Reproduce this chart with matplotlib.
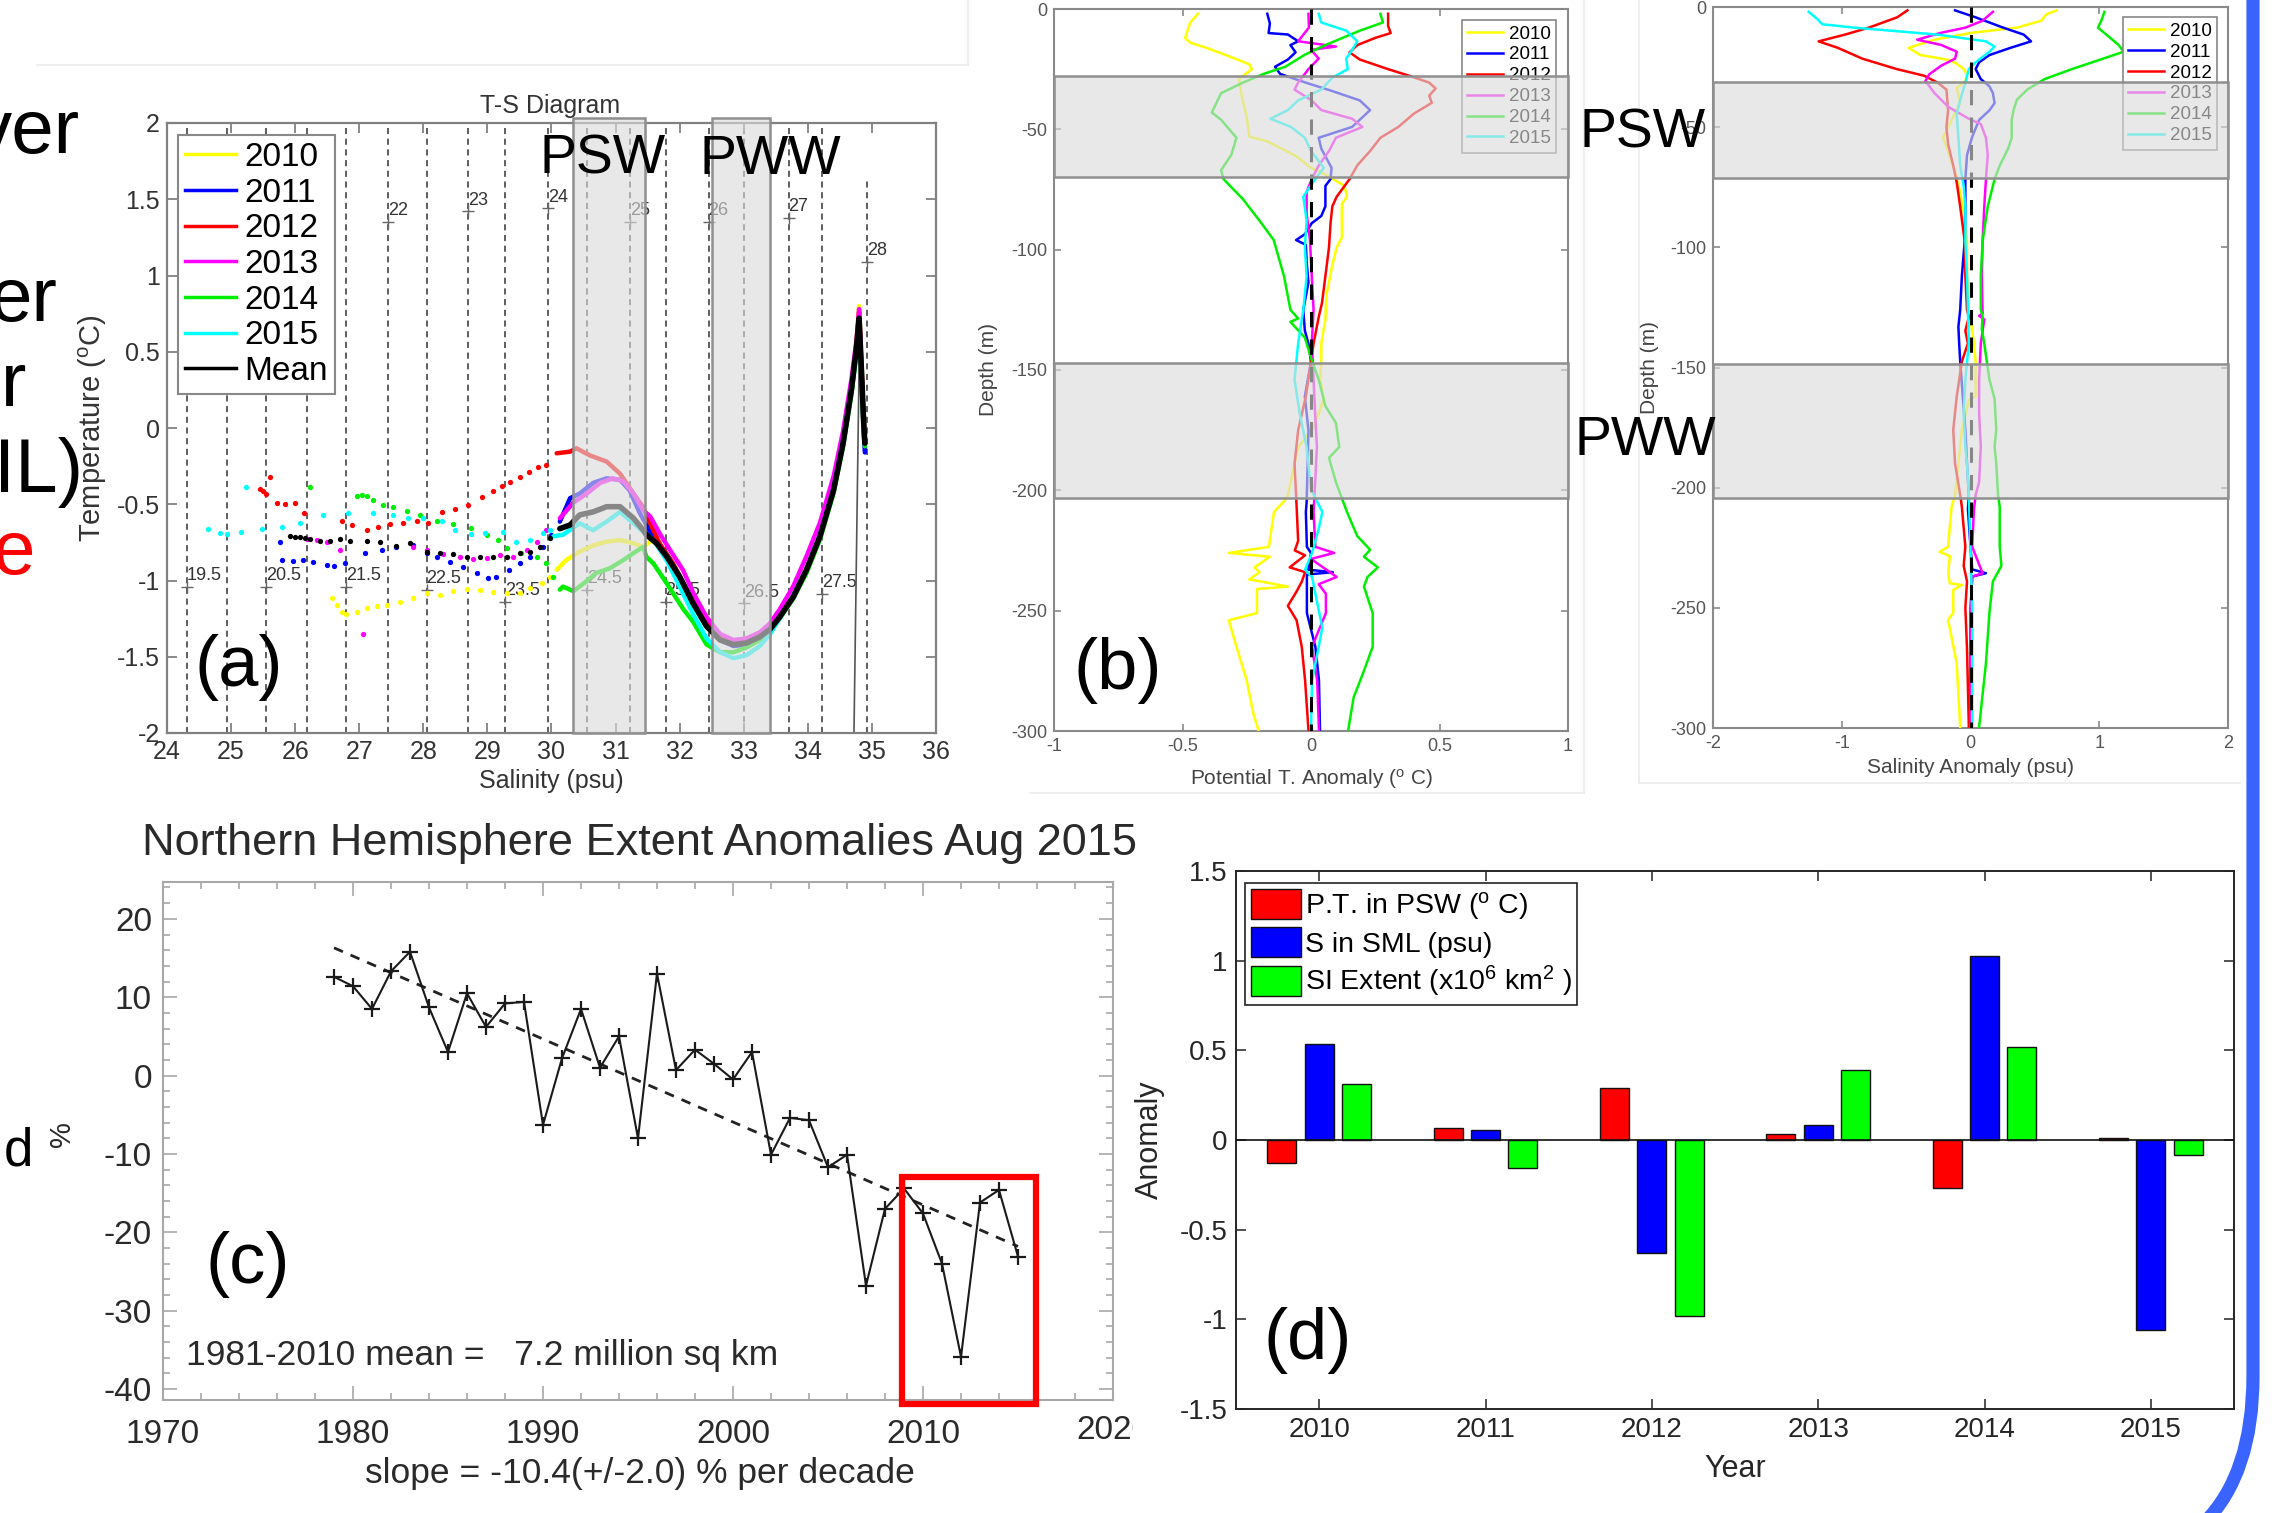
import matplotlib
matplotlib.use('Agg')
import matplotlib.pyplot as plt
from matplotlib.lines import Line2D
from matplotlib.patches import Rectangle, FancyBboxPatch, Patch
from matplotlib.ticker import FuncFormatter, MultipleLocator
from matplotlib.transforms import Bbox, TransformedBbox, IdentityTransform

plt.rcParams['font.family'] = ['Liberation Sans', 'DejaVu Sans']
plt.rcParams['mathtext.fontset'] = 'custom'
plt.rcParams['mathtext.rm'] = 'Liberation Sans'
plt.rcParams['mathtext.it'] = 'Liberation Sans:italic'
plt.rcParams['axes.unicode_minus'] = False

# ---------------- (a) T-S diagram ----------------
ts_labels = ['2010', '2011', '2012', '2013', '2014', '2015', 'Mean']
ts_colors = ['#ffff00', '#0000ff', '#ff0000', '#ff00ff', '#00ee00', '#00ffff', '#000000']

# isopycnals (sigma-t) and where their clabel '+' sits
iso_sigma = ['19.5', '20', '20.5', '21', '21.5', '22', '22.5', '23', '23.5', '24',
             '24.5', '25', '25.5', '26', '26.5', '27', '27.5', '28']
iso_s = [24.31, 24.93, 25.55, 26.18, 26.80, 27.45, 28.05, 28.70, 29.28, 29.95,
         30.55, 31.22, 31.78, 32.45, 33.00, 33.70, 34.22, 34.92]
iso_top = [2, 2, 2, 2, 2, 2, 2, 2, 2, 2, 2, 2, 2, 2, 2, 2, 2, 1.62]
iso_lab_t = [-1.04, None, -1.04, None, -1.04, 1.35, -1.06, 1.42, -1.14, 1.44,
             -1.06, 1.35, -1.14, 1.35, -1.15, 1.38, -1.09, 1.09]

psw_s = (30.33, 31.46)
pww_s = (32.51, 33.41)

# surface-layer casts (dots)
dot_2010_s = [26.57, 26.65, 26.73, 26.80, 26.96, 27.12, 27.27, 27.43, 27.64, 27.84, 28.05,
              28.26, 28.47, 28.68, 28.88, 29.09, 29.30, 29.51, 29.66, 29.85, 29.98]
dot_2010_t = [-1.117, -1.16, -1.204, -1.22, -1.204, -1.18, -1.167, -1.16, -1.14, -1.117, -1.084,
              -1.095, -1.067, -1.058, -1.062, -1.073, -1.084, -1.084, -1.051, -1.014, -0.975]
dot_2011_s = [25.76, 25.79, 25.97, 26.13, 26.28, 26.49, 26.60, 26.78, 27.09, 27.35, 27.58, 27.84,
              28.05, 28.21, 28.42, 28.62, 28.83, 29.01, 29.14, 29.33, 29.51, 29.66, 29.87, 30.00]
dot_2011_t = [-0.745, -0.866, -0.87, -0.866, -0.877, -0.898, -0.905, -0.888, -0.822, -0.80, -0.78, -0.77,
              -0.82, -0.844, -0.877, -0.914, -0.95, -0.986, -0.975, -0.93, -0.888, -0.844, -0.778, -0.70]
dot_2012_s = [25.45, 25.50, 25.55, 25.61, 25.71, 25.84, 26.00, 26.14, 26.73, 26.88, 27.12, 27.30,
              27.48, 27.69, 27.90, 28.08, 28.29, 28.49, 28.70, 28.91, 29.09, 29.22, 29.35, 29.51,
              29.65, 29.79, 29.92]
dot_2012_t = [-0.40, -0.415, -0.43, -0.32, -0.49, -0.50, -0.49, -0.555, -0.608, -0.636, -0.669, -0.651,
              -0.632, -0.621, -0.608, -0.621, -0.549, -0.533, -0.505, -0.455, -0.411, -0.38, -0.352, -0.319,
              -0.29, -0.254, -0.243]
dot_2013_s = [26.18, 26.34, 26.49, 26.70, 27.06, 27.84, 28.05, 28.31, 28.57, 28.78, 28.99, 29.20,
              29.40, 29.61, 29.77, 29.92]
dot_2013_t = [-0.73, -0.734, -0.745, -0.80, -1.35, -0.78, -0.80, -0.826, -0.844, -0.86, -0.855, -0.833,
              -0.844, -0.80, -0.745, -0.669]
dot_2014_s = [26.23, 26.96, 27.04, 27.12, 27.22, 27.37, 27.53, 27.74, 27.95, 28.21, 28.47, 28.75,
              29.00, 29.17, 29.30, 29.53, 29.77, 29.92, 30.03]
dot_2014_t = [-0.385, -0.446, -0.44, -0.444, -0.472, -0.505, -0.516, -0.544, -0.57, -0.608, -0.63, -0.658,
              -0.70, -0.734, -0.79, -0.822, -0.844, -0.888, -0.975]
dot_2015_s = [24.645, 24.83, 24.93, 25.16, 25.23, 25.48, 25.79, 26.07, 26.44, 26.83, 27.22, 27.53,
              27.76, 28.00, 28.29, 28.49, 28.75, 28.96, 29.25, 29.45, 29.66, 29.87, 29.97]
dot_2015_t = [-0.665, -0.686, -0.695, -0.68, -0.385, -0.665, -0.647, -0.625, -0.57, -0.56, -0.555, -0.57,
              -0.592, -0.592, -0.608, -0.669, -0.695, -0.69, -0.68, -0.745, -0.734, -0.69, -0.669]
dot_mean_s = [25.92, 26.00, 26.07, 26.15, 26.23, 26.39, 26.54, 26.70, 26.86, 27.12, 27.32, 27.58,
              27.79, 28.05, 28.26, 28.47, 28.68, 28.88, 29.09, 29.30, 29.51, 29.66, 29.82, 29.98]
dot_mean_t = [-0.708, -0.712, -0.717, -0.722, -0.73, -0.739, -0.739, -0.73, -0.739, -0.739, -0.745, -0.774,
              -0.756, -0.81, -0.818, -0.826, -0.844, -0.848, -0.848, -0.844, -0.818, -0.81, -0.778, -0.724]

# PSW part of each cast, from the surface layer down into the halocline
mid_2010_s = [30.08, 30.23, 30.44, 30.65, 30.86, 31.07, 31.28, 31.43, 31.55, 31.70, 31.85, 32.00]
mid_2010_t = [-0.93, -0.866, -0.81, -0.77, -0.745, -0.735, -0.756, -0.78, -0.74, -0.77, -0.86, -0.98]
mid_2011_s = [30.13, 30.29, 30.44, 30.65, 30.86, 31.07, 31.22, 31.38, 31.54, 31.70, 31.85, 32.00]
mid_2011_t = [-0.614, -0.46, -0.43, -0.36, -0.33, -0.34, -0.41, -0.56, -0.68, -0.77, -0.86, -0.975]
mid_2012_s = [30.08, 30.29, 30.39, 30.60, 30.86, 31.07, 31.28, 31.43, 31.54, 31.69, 31.90, 32.11]
mid_2012_t = [-0.166, -0.155, -0.133, -0.18, -0.22, -0.30, -0.43, -0.52, -0.625, -0.76, -0.89, -1.06]
mid_2013_s = [30.13, 30.34, 30.55, 30.76, 30.96, 31.12, 31.28, 31.43, 31.54, 31.70, 31.85, 32.05]
mid_2013_t = [-0.592, -0.49, -0.43, -0.36, -0.33, -0.35, -0.43, -0.54, -0.58, -0.70, -0.80, -0.93]
mid_2014_s = [30.13, 30.18, 30.34, 30.50, 30.70, 30.91, 31.12, 31.28, 31.43, 31.48, 31.59, 31.80, 32.06]
mid_2014_t = [-1.06, -1.04, -1.07, -1.02, -0.95, -0.92, -0.866, -0.82, -0.78, -0.844, -0.888, -1.02, -1.19]
mid_2015_s = [30.03, 30.18, 30.44, 30.65, 30.86, 31.07, 31.28, 31.43, 31.59, 31.80, 32.00]
mid_2015_t = [-0.71, -0.70, -0.625, -0.67, -0.614, -0.55, -0.625, -0.68, -0.734, -0.87, -1.04]
mid_mean_s = [30.13, 30.29, 30.44, 30.65, 30.86, 31.07, 31.28, 31.43, 31.48, 31.64, 31.80, 32.00]
mid_mean_t = [-0.66, -0.636, -0.57, -0.55, -0.516, -0.516, -0.592, -0.669, -0.70, -0.756, -0.844, -0.975]

# deep part: PWW minimum, Atlantic layer maximum, then the bottom of the cast
deep_s = [32.21, 32.42, 32.63, 32.84, 33.04, 33.25, 33.41, 33.56, 33.77, 33.98, 34.19, 34.40,
          34.55, 34.68, 34.76, 34.80, 34.84, 34.87, 34.89]
deep_2010_t = [-1.14, -1.29, -1.37, -1.40, -1.39, -1.36, -1.31, -1.23, -1.10, -0.92, -0.70, -0.40,
               -0.08, 0.28, 0.57, 0.80, 0.40, 0.08, -0.08]
deep_2011_t = [-1.15, -1.30, -1.39, -1.43, -1.42, -1.38, -1.32, -1.24, -1.11, -0.93, -0.71, -0.41,
               -0.11, 0.24, 0.52, 0.70, 0.30, 0.00, -0.16]
deep_2012_t = [-1.13, -1.28, -1.37, -1.41, -1.40, -1.36, -1.31, -1.23, -1.10, -0.92, -0.70, -0.40,
               -0.09, 0.26, 0.55, 0.76, 0.36, 0.05, -0.08]
deep_2013_t = [-1.08, -1.24, -1.35, -1.39, -1.38, -1.34, -1.28, -1.19, -1.04, -0.84, -0.62, -0.32,
               -0.02, 0.32, 0.58, 0.78, 0.38, 0.06, -0.07]
deep_2014_t = [-1.27, -1.42, -1.47, -1.47, -1.44, -1.39, -1.33, -1.25, -1.12, -0.95, -0.73, -0.43,
               -0.12, 0.22, 0.50, 0.66, 0.30, 0.00, -0.12]
deep_2015_t = [-1.22, -1.38, -1.47, -1.51, -1.49, -1.43, -1.35, -1.25, -1.10, -0.92, -0.70, -0.40,
               -0.09, 0.26, 0.53, 0.70, 0.33, 0.03, -0.09]
deep_mean_t = [-1.15, -1.30, -1.39, -1.42, -1.41, -1.37, -1.32, -1.24, -1.11, -0.93, -0.71, -0.41,
               -0.10, 0.25, 0.53, 0.72, 0.35, 0.05, -0.10]
edge_s = [34.72, 34.81]
edge_t = [-2.0, 0.72]

# ---------------- (b) anomaly profiles: (depth m, anomaly) ----------------
prof_years = ['2010', '2011', '2012', '2013', '2014', '2015']
pt_2010 = [(-2, -0.44), (-5.6, -0.47), (-12, -0.49), (-14, -0.47), (-16, -0.41), (-20, -0.31), (-23, -0.24),
           (-25, -0.23), (-29, -0.28), (-36, -0.27), (-45, -0.25), (-53, -0.24), (-55, -0.17), (-61, -0.06),
           (-66, 0.00), (-69, 0.06), (-73.5, 0.13), (-78, 0.14), (-81, 0.12), (-88, 0.12), (-95, 0.12),
           (-99, 0.10), (-108, 0.08), (-119, 0.06), (-129, 0.056), (-139, 0.04), (-146, 0.04), (-154, 0.036),
           (-162, 0.05), (-174, 0.01), (-182, -0.05), (-197, -0.08), (-202, -0.09), (-204, -0.10),
           (-209, -0.144), (-223.5, -0.164), (-226, -0.32), (-227.6, -0.16), (-232, -0.22), (-234, -0.20),
           (-237, -0.24), (-240, -0.09), (-241, -0.21), (-251, -0.21), (-254, -0.32), (-265, -0.29),
           (-279, -0.25), (-292.5, -0.225), (-299.5, -0.205)]
pt_2011 = [(-2, -0.17), (-6, -0.16), (-10, -0.165), (-10.6, -0.09), (-13.4, -0.05), (-15, -0.08), (-18, -0.06),
           (-21, -0.09), (-24, -0.14), (-27, -0.12), (-30.6, -0.02), (-34, 0.08), (-38, 0.19), (-42, 0.23),
           (-45, 0.20), (-49, 0.16), (-53.5, 0.03), (-58, 0.04), (-62, 0.06), (-66, 0.08), (-70.7, 0.076),
           (-73.5, 0.056), (-82, 0.056), (-86, 0.04), (-89, 0.003), (-93.6, -0.024), (-96, -0.058),
           (-98, -0.02), (-105, -0.017), (-113.6, -0.01), (-125, -0.03), (-133.6, -0.024), (-139, -0.01),
           (-146.5, 0.0), (-161, -0.024), (-175, -0.01), (-189, -0.013), (-205, -0.017), (-209, -0.02),
           (-223.5, -0.016), (-226, 0.0), (-233, -0.01), (-234, 0.085), (-235, -0.016), (-251, -0.016),
           (-265, 0.017), (-279, 0.031), (-299.5, 0.035)]
pt_2012 = [(-2, 0.30), (-7, 0.30), (-10, 0.31), (-12, 0.25), (-15, 0.18), (-18, 0.15), (-21, 0.19), (-25, 0.30),
           (-28, 0.39), (-30.6, 0.46), (-33, 0.485), (-36, 0.46), (-39, 0.47), (-43.5, 0.40), (-49, 0.34),
           (-53.5, 0.27), (-59, 0.23), (-65, 0.18), (-70.7, 0.15), (-78, 0.10), (-82, 0.083), (-89, 0.076),
           (-99, 0.07), (-111, 0.056), (-122, 0.043), (-128, 0.03), (-139, 0.01), (-146.5, 0.0), (-161, -0.02),
           (-175, -0.05), (-189, -0.064), (-202, -0.058), (-221, -0.05), (-225, -0.063), (-227, -0.023),
           (-232, -0.083), (-234, -0.023), (-238, -0.036), (-242, -0.056), (-248, -0.09), (-254, -0.056),
           (-265, -0.036), (-279, -0.023), (-299.5, -0.01)]
pt_2013 = [(-2, -0.01), (-7.7, -0.008), (-13.4, -0.05), (-15.6, 0.097), (-17, 0.0), (-20.6, 0.03), (-25, -0.01),
           (-30.6, -0.05), (-33.5, -0.064), (-38, 0.003), (-42, 0.04), (-45.6, 0.16), (-49, 0.20),
           (-53.5, 0.097), (-59, 0.07), (-65, 0.03), (-70.7, 0.003), (-76, -0.017), (-85, -0.017),
           (-96, -0.004), (-111, 0.003), (-125, 0.01), (-139, 0.003), (-154, 0.01), (-168, 0.016),
           (-182, 0.023), (-197, 0.016), (-209, 0.01), (-223.5, 0.017), (-226, 0.09), (-228.5, 0.0),
           (-236, 0.10), (-239, 0.03), (-243, 0.058), (-251, 0.058), (-265, 0.004), (-279, 0.024),
           (-299.5, 0.031)]
pt_2014 = [(-2, 0.27), (-5.6, 0.28), (-9, 0.19), (-15, 0.056), (-19, -0.024), (-24, -0.10), (-27, -0.185),
           (-30.6, -0.265), (-35, -0.35), (-43, -0.386), (-46, -0.35), (-53.5, -0.29), (-60.6, -0.31),
           (-67, -0.35), (-70.7, -0.34), (-79, -0.265), (-88, -0.20), (-96, -0.145), (-111, -0.105),
           (-125, -0.08), (-128.6, -0.05), (-130, -0.08), (-136.5, -0.024), (-145, 0.0), (-154, 0.03),
           (-165, 0.056), (-172, 0.097), (-182, 0.11), (-186.5, 0.07), (-196.6, 0.097), (-209, 0.14),
           (-219, 0.18), (-224.7, 0.23), (-227.6, 0.206), (-232, 0.26), (-236, 0.22), (-240, 0.206),
           (-251, 0.24), (-265, 0.24), (-275, 0.206), (-286, 0.166), (-299.5, 0.145)]
pt_2015 = [(-2, 0.03), (-5.6, 0.04), (-9, 0.137), (-13.4, 0.18), (-17, 0.16), (-20.6, 0.137), (-25, 0.143),
           (-28.5, 0.083), (-33.5, 0.04), (-38, -0.05), (-42, -0.09), (-45.6, -0.158), (-49, -0.078),
           (-53.5, -0.024), (-59, 0.0), (-66, 0.05), (-70.7, 0.016), (-78, -0.03), (-88, -0.017),
           (-99, -0.024), (-111, -0.017), (-125, -0.03), (-139, -0.05), (-154, -0.064), (-168, -0.044),
           (-182, -0.017), (-199.6, 0.0), (-209, 0.044), (-216, 0.03), (-226, 0.004), (-233, -0.023),
           (-236, 0.004), (-243, 0.017), (-257, 0.044), (-265, 0.03), (-279, 0.004), (-299.5, 0.0)]

sa_2010 = [(-1.4, 0.67), (-3, 0.59), (-5.7, 0.55), (-8.6, 0.36), (-10.7, 0.013), (-13.6, -0.28), (-17, -0.48),
           (-20, -0.39), (-22, -0.17), (-23.6, -0.107), (-25.8, -0.053), (-28, -0.027), (-30.8, -0.04),
           (-33.7, -0.107), (-40, -0.08), (-47, -0.147), (-54.4, -0.214), (-60, -0.174), (-68.8, -0.12),
           (-77, -0.08), (-86, -0.053), (-97, -0.027), (-112, -0.027), (-126, -0.013), (-134.7, 0.013),
           (-140, 0.027), (-147.5, 0.04), (-162, 0.04), (-163.5, -0.013), (-176, -0.067), (-190, -0.094),
           (-203, -0.12), (-208, -0.147), (-224.6, -0.174), (-226.7, -0.24), (-228.5, -0.16),
           (-235.6, -0.174), (-239.8, -0.16), (-240.5, -0.067), (-242.6, -0.134), (-252, -0.134),
           (-255, -0.174), (-273, -0.107), (-299.6, -0.08)]
sa_2011 = [(-1.4, -0.12), (-4.3, 0.04), (-8.6, 0.254), (-11.5, 0.414), (-14.3, 0.47), (-17, 0.31), (-20, 0.147),
           (-23, 0.067), (-25.8, 0.04), (-30, 0.08), (-33, 0.147), (-35.8, 0.174), (-40, 0.187), (-43, 0.147),
           (-47, 0.067), (-54, 0.013), (-61.6, -0.027), (-71.6, -0.04), (-83, -0.04), (-97.4, -0.045),
           (-112, -0.067), (-126, -0.08), (-133, -0.094), (-140, -0.088), (-147.5, -0.08), (-162, -0.06),
           (-176, -0.04), (-190, -0.027), (-203, -0.013), (-208.8, -0.02), (-224.6, 0.0), (-234, 0.013),
           (-235.6, 0.12), (-237, 0.013), (-252, 0.0), (-299.6, 0.0)]
sa_2012 = [(-1.4, -0.49), (-4.3, -0.57), (-8.6, -0.79), (-11.5, -0.976), (-14.3, -1.18), (-17, -1.03),
           (-21.5, -0.84), (-25.8, -0.575), (-28.6, -0.36), (-31.5, -0.254), (-34.4, -0.187), (-43, -0.174),
           (-50, -0.187), (-57, -0.174), (-66, -0.134), (-73, -0.107), (-83, -0.08), (-97.4, -0.045),
           (-112, -0.04), (-126, -0.027), (-129, -0.013), (-134.7, -0.04), (-140, -0.02), (-147.5, -0.067),
           (-162, -0.107), (-176, -0.134), (-190, -0.12), (-203, -0.08), (-208, -0.067), (-224.6, -0.04),
           (-232.5, -0.053), (-239, -0.027), (-250, -0.04), (-267, -0.027), (-299.6, -0.013)]
sa_2013 = [(-2, 0.174), (-5.7, 0.094), (-8.6, -0.04), (-10.7, -0.227), (-13.6, -0.414), (-15.8, -0.227),
           (-18.6, -0.107), (-21.5, -0.12), (-24.4, -0.227), (-28, -0.32), (-30.8, -0.35), (-35.8, -0.28),
           (-41.5, -0.174), (-46.5, -0.013), (-48.7, 0.08), (-54.4, 0.12), (-61.6, 0.134), (-71.6, 0.12),
           (-83, 0.107), (-97.4, 0.094), (-112, 0.088), (-127.5, 0.094), (-128.5, 0.067), (-130, 0.107),
           (-140, 0.08), (-155, 0.067), (-169, 0.067), (-183, 0.08), (-197.7, 0.067), (-203, 0.04),
           (-208.8, 0.027), (-224.6, 0.013), (-235.6, 0.094), (-237, 0.013), (-252, 0.0), (-299.6, 0.0)]
sa_2014 = [(-2, 1.04), (-5.7, 1.016), (-8.6, 0.99), (-11.5, 1.056), (-15.8, 1.15), (-18.6, 1.19), (-21.5, 1.03),
           (-25.8, 0.79), (-30, 0.575), (-34.4, 0.44), (-38.6, 0.36), (-43, 0.334), (-47, 0.32), (-54.4, 0.32),
           (-58.7, 0.294), (-66, 0.227), (-71.6, 0.187), (-83, 0.134), (-97.4, 0.094), (-112, 0.08),
           (-126, 0.08), (-128.5, 0.094), (-134, 0.088), (-140, 0.107), (-155, 0.147), (-163, 0.187),
           (-176, 0.2), (-183, 0.187), (-190, 0.2), (-203, 0.214), (-208, 0.227), (-224.6, 0.227),
           (-232.5, 0.24), (-239, 0.174), (-252, 0.147), (-273, 0.12), (-299.6, 0.067)]
sa_2015 = [(-2, -1.257), (-5, -1.19), (-7.2, -1.15), (-8.6, -0.9), (-11.5, -0.254), (-14.3, 0.12),
           (-16.5, 0.187), (-18.6, 0.147), (-23, 0.04), (-25.8, -0.013), (-31.5, -0.04), (-38.7, -0.08),
           (-44.4, -0.107), (-54.4, -0.094), (-66, -0.08), (-74.5, -0.053), (-83, -0.04), (-97.4, -0.04),
           (-112, -0.027), (-126, -0.02), (-140, -0.013), (-155, -0.04), (-169, -0.053), (-183, -0.04),
           (-190, -0.027), (-203, -0.013), (-224.6, 0.0), (-252, 0.013), (-299.6, 0.013)]
mean_depth = [0, -300]
mean_anom = [0, 0]
pt_psw_z = (-28, -70)
pt_pww_z = (-147, -203)
sa_psw_z = (-31, -71)
sa_pww_z = (-148.5, -204.5)

# ---------------- (c) NH sea ice extent anomalies, August ----------------
nh_year = [1979, 1980, 1981, 1982, 1983, 1984, 1985, 1986, 1987, 1988, 1989, 1990, 1991, 1992, 1993,
           1994, 1995, 1996, 1997, 1998, 1999, 2000, 2001, 2002, 2003, 2004, 2005, 2006, 2007, 2008,
           2009, 2010, 2011, 2012, 2013, 2014, 2015]
nh_pct = [12.6, 11.4, 8.5, 13.3, 15.8, 8.7, 3.0, 10.5, 6.2, 9.2, 9.4, -6.3, 2.2, 8.5, 1.0,
          5.0, -8.0, 13.0, 0.7, 3.3, 1.5, -0.5, 3.0, -10.1, -5.4, -5.7, -11.7, -10.1, -26.8, -17.0,
          -14.4, -17.6, -24.0, -35.9, -16.2, -14.6, -23.1]
trend_year = [1979, 2015]
trend_pct = [16.3, -21.8]
box_year = (2008.9, 2015.95)
box_pct = (-41.9, -13.0)

# ---------------- (d) yearly anomalies ----------------
bar_years = [2010, 2011, 2012, 2013, 2014, 2015]
pt_psw = [-0.13, 0.065, 0.288, 0.036, -0.267, 0.01]
s_sml = [0.536, 0.057, -0.629, 0.086, 1.024, -1.062]
si_extent = [0.314, -0.157, -0.979, 0.388, 0.517, -0.083]
bar_labels = [r'P.T. in PSW ($^{\mathrm{o}}$ C)', 'S in SML (psu)',
              r'SI Extent (x10$^{6}$ km$^{2}$ )']
bar_colors = ['#ff0000', '#0000ff', '#00ff00']

# ------------------------------------------------------------------
W, H = 2276, 1513
fig = plt.figure(figsize=(W / 100, H / 100), dpi=100)


def px_axes(x0, y0, x1, y1):
    # axes placed by its pixel box, y counted from the top edge
    return fig.add_axes([x0 / W, 1 - y1 / H, (x1 - x0) / W, (y1 - y0) / H])


def fig_text(x, y, s, **kw):
    return fig.text(x / W, 1 - y / H, s, **kw)


def fig_line(xs, ys, **kw):
    fig.add_artist(Line2D([x / W for x in xs], [1 - y / H for y in ys], **kw))


def num(v, pos=None):
    return '0' if abs(v) < 1e-9 else f'{v:g}'


def matlab_box(ax, color, lw, length, labelsize, labelcolor, pad):
    for sp in ax.spines.values():
        sp.set_color(color)
        sp.set_linewidth(lw)
    ax.tick_params(direction='in', top=True, right=True, length=length, width=lw * 0.8,
                   color=color, labelsize=labelsize, labelcolor=labelcolor, pad=pad)
    ax.xaxis.set_major_formatter(FuncFormatter(num))
    ax.yaxis.set_major_formatter(FuncFormatter(num))


# faint borders of the pasted panels
for xs, ys in [([37, 968], [65, 65]), ([968, 968], [0, 65]), ([1584, 1584], [0, 793]),
               ([1030, 1584], [793, 793]), ([1639, 1639], [0, 783]), ([1639, 2240], [783, 783])]:
    fig_line(xs, ys, color='#ececec', lw=1.2)

# ---- (a) ----
ax = px_axes(167, 123, 936, 733)
ax.set_xlim(24, 36)
ax.set_ylim(-2, 2)
ax.set_xticks(range(24, 37))
ax.set_yticks([-2, -1.5, -1, -0.5, 0, 0.5, 1, 1.5, 2])
matlab_box(ax, '#808080', 1.6, 7, 18, '#333333', 5)

for s, top, lab, lt in zip(iso_s, iso_top, iso_sigma, iso_lab_t):
    ax.plot([s, s], [-2, top], color='#333333', lw=1.1, dashes=(4, 3), zorder=1)
    if lt is not None:
        ax.plot(s, lt, marker='+', color='#666666', ms=9, mew=1, zorder=2)
        ax.annotate(lab, (s, lt), xytext=(0, 2), textcoords='offset points', fontsize=13,
                    color='#333333', ha='left', va='bottom', zorder=2)

ax.plot(edge_s, edge_t, color='#555555', lw=1.2, zorder=2)
casts = [(dot_2010_s, dot_2010_t, mid_2010_s, mid_2010_t, deep_2010_t),
         (dot_2011_s, dot_2011_t, mid_2011_s, mid_2011_t, deep_2011_t),
         (dot_2012_s, dot_2012_t, mid_2012_s, mid_2012_t, deep_2012_t),
         (dot_2013_s, dot_2013_t, mid_2013_s, mid_2013_t, deep_2013_t),
         (dot_2014_s, dot_2014_t, mid_2014_s, mid_2014_t, deep_2014_t),
         (dot_2015_s, dot_2015_t, mid_2015_s, mid_2015_t, deep_2015_t),
         (dot_mean_s, dot_mean_t, mid_mean_s, mid_mean_t, deep_mean_t)]
for (ds, dt, ms, mt, dpt), c in zip(casts, ts_colors):
    lw = 4 if c == '#000000' else 3.2
    ax.plot(ds, dt, ls='none', marker='o', ms=3.8, mec='none', color=c, zorder=3)
    ax.plot(ms + deep_s, mt + dpt, color=c, lw=lw, zorder=3, solid_capstyle='round')

for s0, s1 in (psw_s, pww_s):
    ax.add_patch(Rectangle((s0, -2), s1 - s0, 4.03, fc=(0.86, 0.86, 0.86, 0.62), ec='#8f8f8f',
                           lw=1.8, zorder=6, clip_on=False))
ax.text(30.79, 1.76, 'PSW', fontsize=40, ha='center', va='center', zorder=7)
ax.text(33.42, 1.76, 'PWW', fontsize=40, ha='center', va='center', zorder=7)
ax.text(25.12, -1.57, '(a)', fontsize=52, ha='center', va='center', zorder=7)

leg = ax.legend([Line2D([], [], color=c, lw=2.5) for c in ts_colors], ts_labels,
                loc='upper left', bbox_to_anchor=(0.0143, 0.980), borderaxespad=0, fontsize=24,
                handlelength=1.55, handletextpad=0.25, labelspacing=0.14, borderpad=0.2,
                fancybox=False, edgecolor='#888888', framealpha=1)
leg.get_frame().set_linewidth(1.5)
ax.text(0.498, 1.028, 'T-S Diagram', transform=ax.transAxes, fontsize=18, color='#333333',
        ha='center', va='center')
ax.set_xlabel('Salinity (psu)', fontsize=18, color='#333333', va='center')
ax.xaxis.set_label_coords(0.5, -0.079)
ax.set_ylabel(r'Temperature ($^{\mathrm{o}}$C)', fontsize=21, color='#333333', va='center')
ax.yaxis.set_label_coords(-0.097, 0.5)


def profile_panel(box, xlim, xticks, profiles, psw_z, pww_z, xlabel, label_pos, leg_anchor):
    axp = px_axes(*box)
    axp.set_xlim(*xlim)
    axp.set_ylim(-300, 0)
    axp.set_xticks(xticks)
    axp.set_yticks(range(-300, 1, 50))
    matlab_box(axp, '#8a8a8a', 1.5, 5, 13, '#555555', 5)
    for prof, c, lab in zip(profiles, ts_colors, prof_years):
        z, v = zip(*prof)
        axp.plot(v, z, color=c, lw=1.8, label=lab, zorder=3)
    axp.plot(mean_anom, mean_depth, color='k', lw=2.2, dashes=(5, 4), zorder=3)
    for z0, z1 in (psw_z, pww_z):
        axp.add_patch(Rectangle((xlim[0], z1), xlim[1] - xlim[0], z0 - z1,
                                fc=(0.86, 0.86, 0.86, 0.62), ec='#8f8f8f', lw=1.8, zorder=6,
                                clip_on=False))
    lg = axp.legend(loc='upper right', bbox_to_anchor=leg_anchor, borderaxespad=0, fontsize=13.5,
                    handlelength=1.9, handletextpad=0.3, labelspacing=0.2, borderpad=0.3,
                    fancybox=False, edgecolor='#888888', framealpha=1)
    lg.get_frame().set_linewidth(1.2)
    axp.set_xlabel(xlabel, fontsize=15, color='#444444', va='center')
    axp.xaxis.set_label_coords(0.5, label_pos[0])
    axp.set_ylabel('Depth (m)', fontsize=15, color='#444444', va='center')
    axp.yaxis.set_label_coords(label_pos[1], 0.5)
    return axp


axb = profile_panel((1054, 9, 1568, 731), (-1, 1), [-1, -0.5, 0, 0.5, 1],
                    [pt_2010, pt_2011, pt_2012, pt_2013, pt_2014, pt_2015], pt_psw_z, pt_pww_z,
                    r'Potential T. Anomaly ($^{\mathrm{o}}$ C)', (-0.066, -0.128), (0.977, 0.985))
axb.text(-0.751, -275, '(b)', fontsize=52, ha='center', va='center', zorder=7)
profile_panel((1713, 7, 2228, 728), (-2, 2), [-2, -1, 0, 1, 2],
              [sa_2010, sa_2011, sa_2012, sa_2013, sa_2014, sa_2015], sa_psw_z, sa_pww_z,
              'Salinity Anomaly (psu)', (-0.055, -0.124), (0.979, 0.986))
fig_text(1643, 133, 'PSW', fontsize=40, ha='center', va='center', zorder=8)
fig_text(1645, 441, 'PWW', fontsize=40, ha='center', va='center', zorder=8)

# ---- (c) ----
axc = px_axes(163, 882, 1113, 1400)
axc.set_xlim(1970, 2020)
axc.set_ylim(-41.4, 24.7)
for sp in axc.spines.values():
    sp.set_color('#a8a8a8')
    sp.set_linewidth(1.5)
axc.set_xticks([1970, 1980, 1990, 2000, 2010, 2020])
axc.set_xticklabels(['1970', '1980', '1990', '2000', '2010', ''])
axc.set_yticks([-40, -30, -20, -10, 0, 10, 20])
axc.xaxis.set_minor_locator(MultipleLocator(2))
axc.yaxis.set_minor_locator(MultipleLocator(2))
axc.tick_params(which='both', direction='in', top=True, right=True, color='#a8a8a8', width=1.2)
axc.tick_params(which='major', length=10, labelsize=24, labelcolor='#2a2a2a')
axc.tick_params(which='minor', length=5)
axc.tick_params(axis='x', pad=14)
axc.tick_params(axis='y', pad=8)
axc.plot(trend_year, trend_pct, color='#222222', lw=2, dashes=(3.5, 3), zorder=3)
axc.plot(nh_year, nh_pct, color='#1a1a1a', lw=1.5, marker='+', ms=11, mew=1.6, zorder=4)
axc.add_patch(Rectangle((box_year[0], box_pct[0]), box_year[1] - box_year[0], box_pct[1] - box_pct[0],
                        fill=False, ec='#ff0000', lw=4.5, zorder=5, clip_on=False))
tail = axc.text(2020, -0.028, '2020', transform=axc.get_xaxis_transform(), fontsize=24,
                color='#2a2a2a', ha='center', va='top', clip_on=True)
tail.set_clip_box(TransformedBbox(Bbox([[0, 0], [1133 / W, 1]]), fig.transFigure))
fig_text(640, 843, 'Northern Hemisphere Extent Anomalies Aug 2015', fontsize=32.5, color='#2a2a2a',
         ha='center', va='center')
fig_text(482, 1355, '1981-2010 mean =   7.2 million sq km', fontsize=25.5, color='#2a2a2a',
         ha='center', va='center')
fig_text(640, 1473, 'slope = -10.4(+/-2.0) % per decade', fontsize=25.5, color='#2a2a2a',
         ha='center', va='center')
fig_text(62, 1134, '%', fontsize=21, color='#2a2a2a', ha='center', va='center', rotation=90)
fig_text(248, 1264, '(c)', fontsize=52, ha='center', va='center')

# ---- (d) ----
axd = px_axes(1236, 871, 2234, 1409)
axd.set_xlim(2009.5, 2015.5)
axd.set_ylim(-1.5, 1.5)
axd.set_xticks(bar_years)
axd.set_yticks([-1.5, -1, -0.5, 0, 0.5, 1, 1.5])
matlab_box(axd, '#262626', 1.4, 7, 20, '#262626', 6)
offsets = [-0.225, 0, 0.225]
for vals, off, c, lab in zip([pt_psw, s_sml, si_extent], offsets, bar_colors, bar_labels):
    axd.bar([y + off for y in bar_years], vals, width=0.175, color=c, edgecolor='#111111', lw=1,
            label=lab, zorder=3)
axd.axhline(0, color='#111111', lw=1.2, zorder=4)
lg = axd.legend(handles=[Patch(fc=c, ec='#111111', lw=1, label=l) for c, l in zip(bar_colors, bar_labels)],
                loc='upper left', bbox_to_anchor=(0.009, 0.978), borderaxespad=0, fontsize=20.5,
                handlelength=1.75, handleheight=1.25, handletextpad=0.15, labelspacing=0.2,
                borderpad=0.2, fancybox=False, edgecolor='#222222', framealpha=1)
lg.get_frame().set_linewidth(1.2)
axd.set_xlabel('Year', fontsize=22, color='#262626', va='center')
axd.xaxis.set_label_coords(0.5, -0.112)
axd.set_ylabel('Anomaly', fontsize=22, color='#262626', va='center')
axd.yaxis.set_label_coords(-0.086, 0.5)
axd.text(2009.93, -1.116, '(d)', fontsize=52, ha='center', va='center', zorder=6)

# cut-off words of the surrounding slide
fig_text(80, 153, 'ver', fontsize=55, ha='right', va='baseline')
fig_text(58, 321, 'er', fontsize=55, ha='right', va='baseline')
fig_text(26, 406, 'r', fontsize=55, ha='right', va='baseline')
fig_text(-6, 492, 'IL)', fontsize=55, ha='left', va='baseline')
fig_text(35, 574, 'e', fontsize=55, ha='right', va='baseline', color='#ff0000')
fig_text(33, 1166, 'd', fontsize=38, ha='right', va='baseline')

# blue slide frame on the right
fig.add_artist(FancyBboxPatch((-600, -59), 2853, 2400, boxstyle='round,pad=0,rounding_size=196',
                              transform=IdentityTransform(), fill=False, ec='#3a64ff', lw=9.5,
                              zorder=10))

fig.savefig('out.png', dpi=100)
